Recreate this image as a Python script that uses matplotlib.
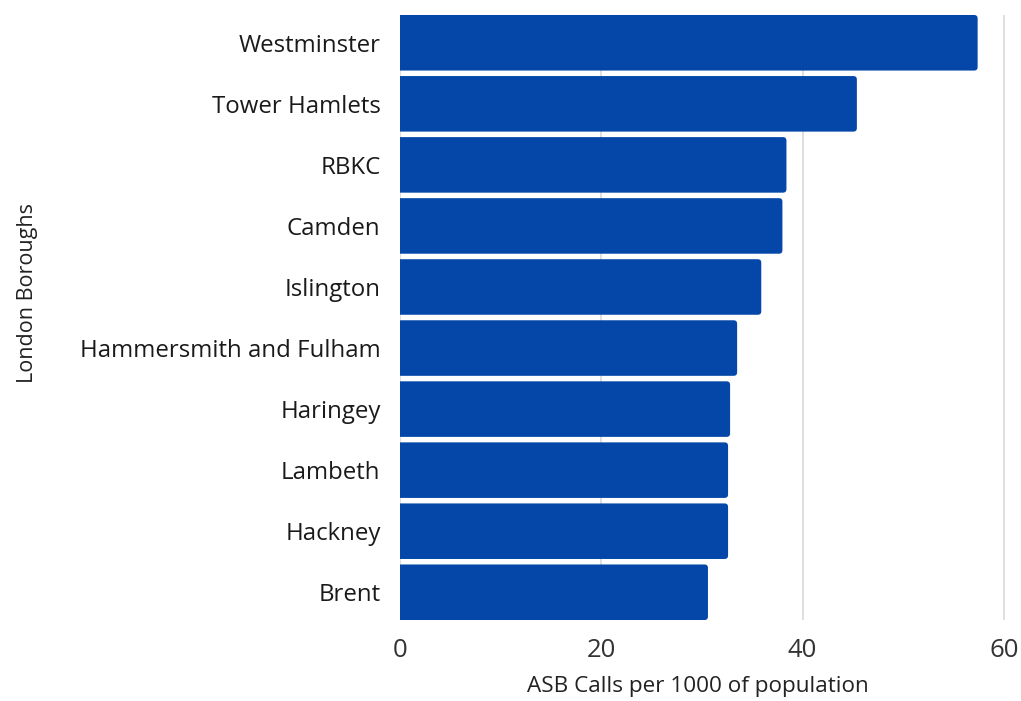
import matplotlib
matplotlib.use("Agg")
import matplotlib.pyplot as plt
from matplotlib.patches import FancyBboxPatch

boroughs = ["Westminster", "Tower Hamlets", "RBKC", "Camden", "Islington",
            "Hammersmith and Fulham", "Haringey", "Lambeth", "Hackney", "Brent"]
calls = [57.4, 45.4, 38.4, 38.0, 35.9, 33.5, 32.8, 32.6, 32.6, 30.6]
xticks = [0, 20, 40, 60]

plt.rcParams['font.family'] = ['Open Sans', 'DejaVu Sans']

fig = plt.figure(figsize=(10.21, 7.01), dpi=100)
ax = fig.add_axes([0.3918, 0.1155, 0.6012, 0.8631])

ypos = list(range(len(boroughs)))[::-1]
bars = ax.barh(ypos, calls, height=0.91, color="#0447A8", zorder=2)
# replace with slightly rounded bars (same geometry)
for b in bars:
    x, y, w, h = b.get_x(), b.get_y(), b.get_width(), b.get_height()
    b.set_visible(False)
    p = FancyBboxPatch((x - 1, y), w + 1, h,
                       boxstyle="round,pad=0,rounding_size=0.35",
                       mutation_aspect=0.16, facecolor="#0447A8",
                       edgecolor="none", zorder=2)
    ax.add_patch(p)

ax.set_ylim(-0.455, len(boroughs) - 0.545)
ax.set_xlim(0, 61)
ax.set_yticks(ypos)
ax.set_yticklabels(boroughs, fontsize=17.3, color="#1a1a1a")
ax.set_xticks(xticks)
ax.set_xticklabels([str(t) for t in xticks], fontsize=18.5, color="#333333")
ax.tick_params(axis='y', length=0, pad=14)
ax.tick_params(axis='x', length=0, pad=13)
ax.grid(axis='x', color="#d9d9d9", linewidth=1.2, zorder=0)
for s in ax.spines.values():
    s.set_visible(False)

ax.set_xlabel("ASB Calls per 1000 of population", fontsize=16.2, color="#222222")
ax.xaxis.set_label_coords(0.485, -0.092)
ax.set_ylabel("London Boroughs", fontsize=15.5, color="#222222")
ax.yaxis.set_label_coords(-0.59, 0.541)

fig.savefig("out.png", dpi=100, facecolor="white")
